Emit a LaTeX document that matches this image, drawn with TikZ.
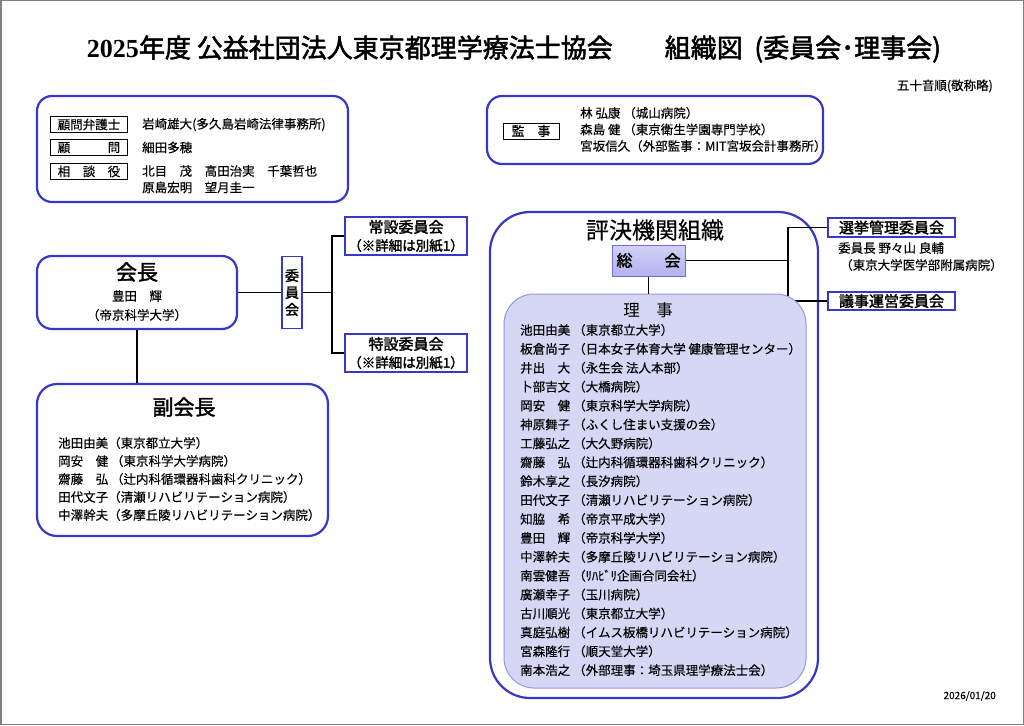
\documentclass[tikz,border=0pt]{standalone}
\usepackage{fontspec}
\newfontfamily\jp[AutoFakeBold=2]{Noto Sans CJK JP}
\newfontfamily\jpr[FakeBold=0.3]{Noto Sans CJK JP}
\newfontfamily\tnum{Liberation Serif}
\usetikzlibrary{positioning}
\definecolor{orgblue}{RGB}{55,55,200}
\definecolor{rijifill}{RGB}{214,214,245}
\definecolor{rijiedge}{RGB}{150,150,225}
\definecolor{sokaitop}{RGB}{210,210,248}
\definecolor{sokaibot}{RGB}{178,178,238}
\definecolor{sokaiedge}{RGB}{110,110,220}

\begin{document}
\begin{tikzpicture}[x=1pt, y=-1pt,
    bluebox/.style={draw=orgblue, line width=2.2pt, rounded corners=15pt},
    cmtbox/.style={draw=orgblue, line width=2pt, fill=white, align=center, inner sep=0pt, font=\jp\bfseries\fontsize{15}{17}\selectfont},
    tagbox/.style={draw=black, line width=0.9pt, minimum width=77pt, minimum height=16pt, inner sep=0pt, font=\jpr\fontsize{12.5}{14}\selectfont},
    txt/.style={anchor=west, inner sep=0pt, font=\jpr\fontsize{12.5}{14}\selectfont},
    ctxt/.style={inner sep=0pt, font=\jpr\fontsize{12.5}{14}\selectfont},
    head/.style={inner sep=0pt, font=\jp\bfseries\fontsize{21}{24}\selectfont},
    link/.style={line width=1.4pt}]

    \useasboundingbox (0,0) rectangle (1024,725);
    \draw[gray, line width=1.5pt] (0.75,0.75) rectangle (1023.25,724.25);

    % header
    \node[inner sep=0pt, font=\jp\bfseries\fontsize{26}{30}\selectfont] (title) at (514,49) {{\tnum\bfseries 2025}年度 公益社団法人東京都理学療法士協会　　組織図\ \ (委員会･理事会)};
    \node[ctxt, anchor=east] (order) at (993,86) {五十音順(敬称略)};

    % advisors
    \node[bluebox, minimum width=311pt, minimum height=106pt] (advbox) at (192.5,149) {};
    \node[tagbox] (t1) at (89,124.5) {顧問弁護士};
    \node[tagbox] (t2) at (89,147.5) {顧　　　問};
    \node[tagbox] (t3) at (89,171.5) {相　談　役};
    \node[txt] (a1) at (142,124.5) {岩崎雄大(多久島岩崎法律事務所)};
    \node[txt] (a2) at (142,147.5) {細田多穂};
    \node[txt] (a3) at (142,171) {北目　茂　高田治実　千葉哲也};
    \node[txt] (a4) at (142,187.5) {原島宏明　望月圭一};

    % auditors
    \node[bluebox, minimum width=336pt, minimum height=68pt] (audbox) at (655,130) {};
    \node[tagbox, minimum width=56pt, font=\jpr\fontsize{13}{15}\selectfont] (t4) at (531,131) {監　事};
    \node[txt] (k1) at (580,113) {林 弘康 （城山病院）};
    \node[txt] (k2) at (580,129.5) {森島 健 （東京衛生学園専門学校）};
    \node[txt] (k3) at (580,146) {宮坂信久（外部監事：MIT宮坂会計事務所）};

    % president and committees
    \node[bluebox, minimum width=200pt, minimum height=73pt] (kaicho) at (137,292.5) {};
    \node[head] (kaichoT) at (137,272) {会長};
    \node[ctxt] (kaichoN) at (137,296) {豊田　輝};
    \node[ctxt] (kaichoA) at (137,315) {（帝京科学大学）};

    \node[cmtbox, minimum width=20pt, minimum height=72pt, line width=1.8pt, font=\jp\bfseries\fontsize{14}{17}\selectfont] (iinkai) at (292,292.5) {委\\員\\会};
    \node[cmtbox, minimum width=122pt, minimum height=38pt] (joset) at (406,236) {常設委員会\\[1pt]{\fontsize{13.5}{15}\selectfont （※詳細は別紙1）}};
    \node[cmtbox, minimum width=122pt, minimum height=38pt] (tokusetsu) at (406,353) {特設委員会\\[1pt]{\fontsize{13.5}{15}\selectfont （※詳細は別紙1）}};
    \coordinate (jc) at (332,292.5);

    \draw[link] (kaicho) -- (iinkai);
    \draw[link] (iinkai) -- (jc);
    \draw[link] (joset.west) -| (jc);
    \draw[link] (tokusetsu.west) -| (jc);

    % vice presidents
    \node[bluebox, rounded corners=20pt, minimum width=291pt, minimum height=152pt] (fuku) at (182.5,460) {};
    \node[head] (fukuT) at (184,407) {副会長};
    \foreach \nm/\af [count=\i] in {池田由美/（東京都立大学）, 岡安　健/ （東京科学大学病院）, 齋藤　弘/ （辻内科循環器科歯科クリニック）, 田代文子/（清瀬リハビリテーション病院）, 中澤幹夫/（多摩丘陵リハビリテーション病院）}
        \node[txt] (v\i) at (58,{443+18*(\i-1)}) {\nm\af};
    \draw[link] (kaicho.south) -- (kaicho.south |- fuku.north);

    % voting body
    \node[bluebox, rounded corners=40pt, minimum width=328pt, minimum height=486pt] (hyoketsu) at (654,455) {};
    \node[inner sep=0pt, font=\jpr\fontsize{23}{26}\selectfont] (hyoketsuT) at (655,230) {評決機関組織};
    \node[draw=sokaiedge, line width=1pt, top color=sokaitop, bottom color=sokaibot, minimum width=73pt, minimum height=31pt, inner sep=0pt, font=\jp\bfseries\fontsize{16}{18}\selectfont] (sokai) at (648.5,260.5) {総　　会};
    \coordinate (jr) at (788,260.5);
    \node[cmtbox, minimum width=127pt, minimum height=19pt] (senkyo) at (891.5,227.5) {選挙管理委員会};
    \node[txt, font=\jpr\fontsize{12.5}{14}\selectfont] (senkyoN) at (838,248) {委員長 野々山 良輔};
    \node[txt, font=\jpr\fontsize{12.5}{14}\selectfont] (senkyoA) at (840,265) {（東京大学医学部附属病院）};
    \node[cmtbox, minimum width=127pt, minimum height=18pt] (giji) at (891.5,301) {議事運営委員会};

    \draw[link] (sokai) -- (jr);
    \draw[link] (senkyo.west) -| (jr);
    \draw[link] (giji.west) -| (jr);

    % directors
    \node[draw=rijiedge, fill=rijifill, line width=1pt, rounded corners=30pt, minimum width=302pt, minimum height=394pt] (riji) at (655,491) {};
    \node[inner sep=0pt, font=\jp\fontsize{16.5}{18}\selectfont] (rijiT) at (648,310) {理　事};
    \draw[link] (sokai.south) -- (sokai.south |- riji.north);
    \foreach \nm/\af [count=\i] in {池田由美/東京都立大学, 板倉尚子/日本女子体育大学 健康管理センター, 井出　大/永生会 法人本部, 卜部吉文/大橋病院, 岡安　健/東京科学大学病院, 神原舞子/ふくし住まい支援の会, 工藤弘之/大久野病院, 齋藤　弘/辻内科循環器科歯科クリニック, 鈴木享之/長汐病院, 田代文子/清瀬リハビリテーション病院, 知脇　希/帝京平成大学, 豊田　輝/帝京科学大学, 中澤幹夫/多摩丘陵リハビリテーション病院, 南雲健吾/ﾘﾊﾋﾞﾘ企画合同会社, 廣瀬幸子/玉川病院, 古川順光/東京都立大学, 真庭弘樹/イムス板橋リハビリテーション病院, 宮森隆行/順天堂大学, 南本浩之/外部理事：埼玉県理学療法士会}
        \node[txt] (r\i) at (520,{330+18.9*(\i-1)}) {\makebox[53pt][l]{\nm}（\af）};

    \node[inner sep=0pt, anchor=east, font=\jpr\fontsize{10}{12}\selectfont] (date) at (996,696) {2026/01/20};

\end{tikzpicture}
\end{document}
